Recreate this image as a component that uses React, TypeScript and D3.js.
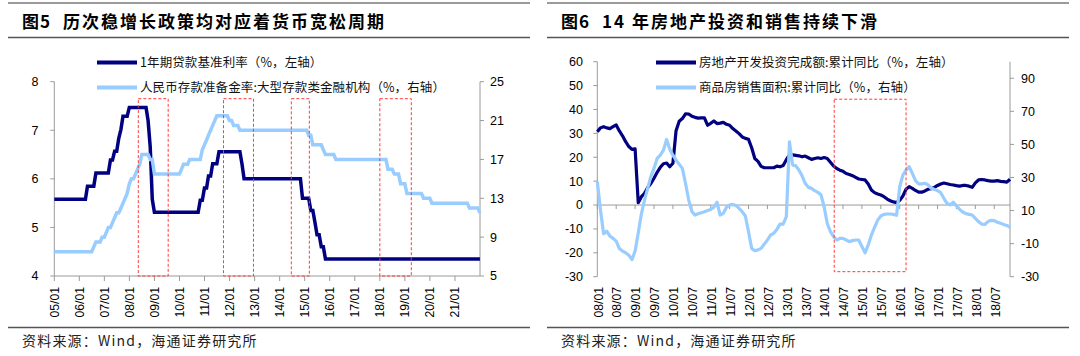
import React from "react";
import * as d3 from "d3";

const W = 1080;
const H = 356;
const LATIN = "'Liberation Sans', Arial, 'Noto Sans CJK SC', sans-serif";
const CJK = "'Noto Sans CJK SC', 'Liberation Sans', sans-serif";
const NAVY = "#000080";
const LIGHT = "#99CCFF";
const AXIS = "#9a9a9a";
const RULE = "#555555";
const BOX = "#ff3b3b";

// ---------------- Figure 5 data ----------------
const fig5Number = "图5";
const fig5Title = "历次稳增长政策均对应着货币宽松周期";
const fig5Legend = ["1年期贷款基准利率（%，左轴）", "人民币存款准备金率:大型存款类金融机构（%，右轴）"];
const loanDates = [
  "2005-01-01", "2006-04-28", "2006-08-19", "2007-03-18", "2007-05-19", "2007-07-21", "2007-08-22",
  "2007-09-15", "2007-12-21", "2008-09-16", "2008-10-09", "2008-10-30", "2008-11-27", "2008-12-23",
  "2010-10-20", "2010-12-26", "2011-02-09", "2011-04-06", "2011-07-07", "2012-06-08", "2012-07-06",
  "2014-11-22", "2015-03-01", "2015-05-11", "2015-06-28", "2015-08-26", "2015-10-24",
];
const loanValues = [
  5.58, 5.85, 6.12, 6.39, 6.57, 6.84, 7.02, 7.29, 7.47, 7.2, 6.93, 6.66, 5.58, 5.31,
  5.56, 5.81, 6.06, 6.31, 6.56, 6.31, 6.0, 5.6, 5.35, 5.1, 4.85, 4.6, 4.35,
];
const rrrDates = [
  "2005-01-01", "2006-07-05", "2006-08-15", "2006-11-15", "2007-01-15", "2007-02-25", "2007-04-16",
  "2007-05-15", "2007-06-05", "2007-08-15", "2007-09-25", "2007-10-25", "2007-11-26", "2007-12-25",
  "2008-01-25", "2008-03-25", "2008-04-25", "2008-05-20", "2008-06-15", "2008-06-25", "2008-10-15",
  "2008-12-05", "2008-12-25", "2010-01-18", "2010-02-25", "2010-05-10", "2010-11-16", "2010-11-29",
  "2010-12-20", "2011-01-20", "2011-02-24", "2011-03-25", "2011-04-21", "2011-05-18", "2011-06-20",
  "2011-12-05", "2012-02-24", "2012-05-18", "2015-02-05", "2015-04-20", "2015-09-06", "2015-10-24",
  "2016-03-01", "2018-04-25", "2018-07-05", "2018-10-15", "2019-01-15", "2019-01-25", "2019-09-16",
  "2020-01-06", "2021-07-15", "2021-12-15",
];
const rrrValues = [
  7.5, 8.0, 8.5, 9.0, 9.5, 10.0, 10.5, 11.0, 11.5, 12.0, 12.5, 13.0, 13.5, 14.5,
  15.0, 15.5, 16.0, 16.5, 17.0, 17.5, 17.0, 16.0, 15.5, 16.0, 16.5, 17.0, 17.5, 18.0,
  18.5, 19.0, 19.5, 20.0, 20.5, 21.0, 21.5, 21.0, 20.5, 20.0, 19.5, 18.5, 18.0, 17.5,
  17.0, 16.0, 15.5, 14.5, 14.0, 13.5, 13.0, 12.5, 12.0, 11.5,
];
const fig5XDomain = ["2005-01-01", "2022-01-01"];
const fig5SeriesEnd = "2021-12";
const fig5XTicks = ["05/01", "06/01", "07/01", "08/01", "09/01", "10/01", "11/01", "12/01", "13/01",
  "14/01", "15/01", "16/01", "17/01", "18/01", "19/01", "20/01", "21/01"];
const fig5LeftTicks = [4, 5, 6, 7, 8];
const fig5RightTicks = [5, 9, 13, 17, 21, 25];
const fig5BoxStart = ["2008-05-10", "2011-10-05", "2014-06-20", "2018-01-01"];
const fig5BoxEnd = ["2009-07-20", "2012-12-15", "2015-03-10", "2019-04-05"];
const fig5BoxTop = 7.65;

// ---------------- Figure 6 data ----------------
const fig6Number = "图6";
const fig6Title = "14 年房地产投资和销售持续下滑";
const fig6Legend = ["房地产开发投资完成额:累计同比（%，左轴）", "商品房销售面积:累计同比（%，右轴）"];
const fig6StartYear = 2008; // monthly from 2008-01 to 2018-12
const investYoY = [
  30.7, 32.3, 32.8, 32.3, 32.0, 32.8, 33.5, 31.0, 29.0, 26.5, 24.5, 23.3, // 2008
  23.5, 1.0, 3.5, 4.9, 7.3, 9.0, 11.2, 13.7, 15.8, 17.3, 17.6, 16.0,     // 2009
  17.5, 31.1, 35.1, 36.2, 38.2, 38.1, 37.2, 36.7, 36.4, 36.5, 36.5, 33.4, // 2010
  34.2, 35.2, 34.1, 34.3, 34.6, 33.8, 33.4, 32.0, 31.0, 29.9, 28.5, 27.9, // 2011
  27.5, 24.0, 19.5, 18.3, 16.2, 15.6, 15.6, 15.6, 15.6, 16.3, 16.0, 16.5, // 2012
  19.0, 21.0, 21.0, 20.8, 20.6, 20.2, 20.5, 19.8, 19.1, 19.5, 19.8, 19.5, // 2013
  19.9, 19.5, 17.9, 16.3, 15.3, 14.6, 14.1, 13.2, 12.8, 12.3, 11.6, 10.9, // 2014
  10.7, 10.5, 8.8, 6.3, 5.2, 4.6, 4.2, 3.5, 2.5, 1.8, 1.3, 1.0,           // 2015
  2.0, 3.8, 6.6, 7.7, 7.0, 6.1, 5.4, 5.4, 5.9, 6.6, 6.8, 7.4,             // 2016
  8.2, 8.8, 9.2, 8.9, 8.6, 8.4, 8.1, 7.9, 8.2, 8.2, 7.9, 7.4,             // 2017
  9.3, 10.5, 10.7, 10.5, 10.2, 10.0, 10.0, 10.2, 9.9, 9.8, 9.6, 10.8,     // 2018
];
const salesAreaYoY = [
  27.5, 10.5, -4.0, -2.5, -5.5, -6.8, -8.5, -13.0, -14.5, -15.5, -17.0, -19.7, // 2008
  -14.5, -3.5, 8.0, 16.5, 23.5, 30.5, 35.5, 41.5, 43.5, 46.5, 53.0, 47.0,      // 2009
  43.5, 40.5, 38.0, 35.5, 26.5, 16.5, 9.5, 7.3, 8.0, 8.7, 9.3, 10.0,           // 2010
  10.7, 12.0, 15.0, 7.3, 8.3, 12.0, 13.3, 13.7, 13.1, 11.3, 9.3, 6.7,          // 2011
  -2.8, -12.9, -14.3, -13.8, -12.9, -10.3, -7.8, -4.8, -3.8, -1.4, 1.8, 1.8,   // 2012
  6.3, 51.5, 37.6, 37.0, 34.5, 31.0, 26.5, 24.0, 23.4, 22.0, 21.0, 19.5,      // 2013
  12.3, 2.2, -2.8, -5.8, -7.8, -6.8, -6.8, -7.8, -8.8, -8.2, -7.8, -7.8,      // 2014
  -11.8, -15.5, -10.8, -4.8, -0.2, 4.2, 6.7, 7.7, 7.9, 7.9, 7.7, 7.1,         // 2015
  24.4, 31.5, 34.5, 36.5, 32.5, 28.1, 26.1, 26.1, 26.5, 25.5, 23.4, 22.8,     // 2016
  22.0, 20.8, 17.4, 14.4, 13.4, 15.0, 12.8, 10.7, 9.1, 8.1, 7.7, 7.3,         // 2017
  5.3, 3.3, 1.8, 1.6, 3.3, 4.1, 3.9, 2.9, 2.3, 1.6, 1.0, -0.2,                // 2018
];
const fig6XTicks = ["08/01", "08/07", "09/01", "09/07", "10/01", "10/07", "11/01", "11/07", "12/01",
  "12/07", "13/01", "13/07", "14/01", "14/07", "15/01", "15/07", "16/01", "16/07", "17/01", "17/07",
  "18/01", "18/07"];
const fig6LeftTicks = [-30, -20, -10, 0, 10, 20, 30, 40, 50, 60];
const fig6RightTicks = [-30, -10, 10, 30, 50, 70, 90];
const fig6RightMax = 100;
const fig6BoxMonths = [75.2, 98.0];
const fig6BoxValues = [44.3, -27.9];

// ---------------- helpers ----------------
const utc = (s: string) => new Date(s + "T00:00:00Z");

function monthEndSeries(dates: string[], values: number[], endYM: string) {
  const ev = dates.map((d, i) => ({ t: utc(d), v: values[i] }));
  const [ey, em] = endYM.split("-").map(Number);
  const start = ev[0].t;
  const pts: { t: Date; v: number }[] = [{ t: start, v: ev[0].v }];
  let y = start.getUTCFullYear();
  let m = start.getUTCMonth();
  while (y < ey || (y === ey && m <= em - 1)) {
    const t = new Date(Date.UTC(y, m + 1, 0));
    let v = ev[0].v;
    for (const e of ev) if (e.t <= t) v = e.v;
    pts.push({ t, v });
    m++;
    if (m === 12) { m = 0; y++; }
  }
  return pts;
}

function Title({ x, num, text }: { x: number; num: string; text: string }) {
  return (
    <g>
      <line x1={x - 14} x2={x + 508} y1={3} y2={3} stroke="#9a9a9a" strokeWidth={2} />
      <text x={x} y={27.5} fontFamily={CJK} fontSize={17} fontWeight="bold" letterSpacing={1} fill="#000">{num}</text>
      <text x={x + 41} y={27.5} fontFamily={CJK} fontSize={17} fontWeight="bold" letterSpacing={2} fill="#000">{text}</text>
      <line x1={x - 14} x2={x + 508} y1={37.5} y2={37.5} stroke={RULE} strokeWidth={1.5} />
      <line x1={x - 14} x2={x + 508} y1={327.5} y2={327.5} stroke={RULE} strokeWidth={1.5} />
      <text x={x} y={346} fontFamily={CJK} fontSize={14} letterSpacing={1.2} fill="#222">资料来源：Wind，海通证券研究所</text>
    </g>
  );
}

function Legend({ x, labels }: { x: number; labels: string[] }) {
  const colors = [NAVY, LIGHT];
  return (
    <g>
      {labels.map((l, i) => (
        <g key={i}>
          <line x1={x} x2={x + 40} y1={62.5 + i * 25} y2={62.5 + i * 25} stroke={colors[i]} strokeWidth={4} />
          <text x={x + 43} y={62.5 + i * 25 + 4.4} fontFamily={CJK} fontSize={12.5} letterSpacing={0.1} fill="#111">{l}</text>
        </g>
      ))}
    </g>
  );
}

function Fig5() {
  const x0 = 54.3, x1 = 480, yTop = 81.7, yBot = 276;
  const x = d3.scaleUtc().domain(fig5XDomain.map(utc)).range([x0, x1]);
  const yL = d3.scaleLinear().domain([4, 8]).range([yBot, yTop]);
  const yR = d3.scaleLinear().domain([5, 25]).range([yBot, yTop]);
  const loan = monthEndSeries(loanDates, loanValues, fig5SeriesEnd);
  const rrr = monthEndSeries(rrrDates, rrrValues, fig5SeriesEnd);
  const lineL = d3.line<{ t: Date; v: number }>().x((d) => x(d.t)).y((d) => yL(d.v));
  const lineR = d3.line<{ t: Date; v: number }>().x((d) => x(d.t)).y((d) => yR(d.v));
  const tickDates = fig5XTicks.map((s) => utc("20" + s.slice(0, 2) + "-" + s.slice(3, 5) + "-01"));
  return (
    <g>
      <Title x={22} num={fig5Number} text={fig5Title} />
      <Legend x={97} labels={fig5Legend} />
      <line x1={x0} x2={x0} y1={yTop} y2={yBot} stroke={AXIS} strokeWidth={1} />
      <line x1={x1} x2={x1} y1={yTop} y2={yBot} stroke={AXIS} strokeWidth={1} />
      <line x1={x0} x2={x1} y1={yBot} y2={yBot} stroke={AXIS} strokeWidth={1} />
      {fig5LeftTicks.map((t) => (
        <g key={"l" + t}>
          <line x1={x0 - 4} x2={x0} y1={yL(t)} y2={yL(t)} stroke={AXIS} />
          <text x={38.5} y={yL(t)} dy="0.35em" textAnchor="end" fontFamily={LATIN} fontSize={12.5} fill="#000">{t}</text>
        </g>
      ))}
      {fig5RightTicks.map((t) => (
        <g key={"r" + t}>
          <line x1={x1} x2={x1 + 4} y1={yR(t)} y2={yR(t)} stroke={AXIS} />
          <text x={490} y={yR(t)} dy="0.35em" textAnchor="start" fontFamily={LATIN} fontSize={12.5} fill="#000">{t}</text>
        </g>
      ))}
      {tickDates.map((d, i) => (
        <g key={"x" + i}>
          <line x1={x(d)} x2={x(d)} y1={yBot} y2={yBot + 5} stroke={AXIS} />
          <text transform={`translate(${x(d)},287) rotate(-90)`} dy="0.35em" textAnchor="end" fontFamily={LATIN} fontSize={12.2} fill="#000">{fig5XTicks[i]}</text>
        </g>
      ))}
      <path d={lineL(loan) || ""} fill="none" stroke={NAVY} strokeWidth={3.5} strokeLinejoin="miter" />
      <path d={lineR(rrr) || ""} fill="none" stroke={LIGHT} strokeWidth={3.5} strokeLinejoin="miter" />
      {fig5BoxStart.map((s, i) => (
        <rect key={"b" + i} x={x(utc(s))} y={yL(fig5BoxTop)} width={x(utc(fig5BoxEnd[i])) - x(utc(s))}
          height={yL(4) - yL(fig5BoxTop)} fill="none" stroke={BOX} strokeWidth={1} strokeDasharray="3,2" />
      ))}
    </g>
  );
}

function Fig6() {
  const x0 = 597.3, x1 = 1010, yTop = 61.7, yBot = 276.7;
  const n = investYoY.length;
  const x = d3.scaleLinear().domain([0, n - 1]).range([x0, x1]);
  const yL = d3.scaleLinear().domain([-30, 60]).range([yBot, yTop]);
  const yR = d3.scaleLinear().domain([-30, fig6RightMax]).range([yBot, yTop]);
  const lineL = d3.line<number>().x((_, i) => x(i)).y((d) => yL(d));
  const lineR = d3.line<number>().x((_, i) => x(i)).y((d) => yR(d));
  const tickIdx = fig6XTicks.map((s) => (2000 + +s.slice(0, 2) - fig6StartYear) * 12 + (+s.slice(3, 5) - 1));
  return (
    <g>
      <Title x={561} num={fig6Number} text={fig6Title} />
      <Legend x={656} labels={fig6Legend} />
      <line x1={x0} x2={x0} y1={yTop} y2={yBot} stroke={AXIS} strokeWidth={1} />
      <line x1={x1} x2={x1} y1={yTop} y2={yBot} stroke={AXIS} strokeWidth={1} />
      <line x1={x0} x2={x1} y1={yL(0)} y2={yL(0)} stroke={AXIS} strokeWidth={1} />
      {fig6LeftTicks.map((t) => (
        <g key={"l" + t}>
          <line x1={x0 - 4} x2={x0} y1={yL(t)} y2={yL(t)} stroke={AXIS} />
          <text x={583} y={yL(t)} dy="0.35em" textAnchor="end" fontFamily={LATIN} fontSize={12.5} fill="#000">{t}</text>
        </g>
      ))}
      {fig6RightTicks.map((t) => (
        <g key={"r" + t}>
          <line x1={x1} x2={x1 + 4} y1={yR(t)} y2={yR(t)} stroke={AXIS} />
          <text x={1021} y={yR(t)} dy="0.35em" textAnchor="start" fontFamily={LATIN} fontSize={12.5} fill="#000">{t}</text>
        </g>
      ))}
      {tickIdx.map((m, i) => (
        <g key={"x" + i}>
          <line x1={x(m)} x2={x(m)} y1={yL(0)} y2={yL(0) + 4} stroke={AXIS} />
          <text transform={`translate(${x(m) + 1},287) rotate(-90)`} dy="0.35em" textAnchor="end" fontFamily={LATIN} fontSize={12.2} fill="#000">{fig6XTicks[i]}</text>
        </g>
      ))}
      <path d={lineL(investYoY) || ""} fill="none" stroke={NAVY} strokeWidth={3.2} strokeLinejoin="round" />
      <path d={lineR(salesAreaYoY) || ""} fill="none" stroke={LIGHT} strokeWidth={3.2} strokeLinejoin="round" />
      <rect x={x(fig6BoxMonths[0])} y={yL(fig6BoxValues[0])} width={x(fig6BoxMonths[1]) - x(fig6BoxMonths[0])}
        height={yL(fig6BoxValues[1]) - yL(fig6BoxValues[0])} fill="none" stroke={BOX} strokeWidth={1} strokeDasharray="3,2" />
    </g>
  );
}

export default function App() {
  return (
    <svg width={W} height={H} viewBox={`0 0 ${W} ${H}`}
      style={{ position: "absolute", left: 0, top: 0, background: "#fff", display: "block" }}>
      <rect width={W} height={H} fill="#fff" />
      <Fig5 />
      <Fig6 />
    </svg>
  );
}
